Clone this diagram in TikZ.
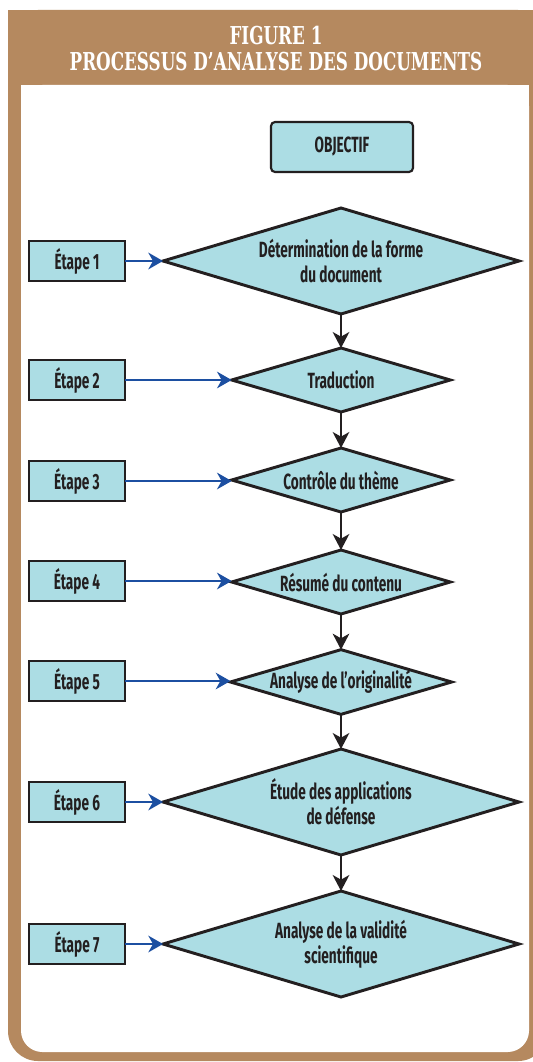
\documentclass[tikz,border=0pt]{standalone}
\usepackage{fontspec}
\usetikzlibrary{shapes.geometric,arrows.meta}
\newfontfamily\bodyfont{Fira Sans}[FakeStretch=0.62]
\newfontfamily\titlefont{DejaVu Serif}[FakeStretch=0.68]
\definecolor{framebrown}{HTML}{B5895F}
\definecolor{boxcyan}{HTML}{ACDDE4}
\definecolor{arrowblue}{HTML}{1C4FA1}
\definecolor{inkblack}{HTML}{231F20}
\begin{document}
\begin{tikzpicture}[x=0.75pt,y=-0.75pt,
  bodytext/.style={font=\bodyfont\bfseries\fontsize{16.5}{18.75}\selectfont, text=inkblack},
  dia/.style={shape=diamond, draw=inkblack, fill=boxcyan, line width=2.2pt, inner sep=0pt, outer sep=0pt, align=center, bodytext},
  bigdia/.style={dia, minimum width=267pt, minimum height=79.5pt, aspect=3.36},
  smalldia/.style={dia, minimum width=164pt, minimum height=48pt, aspect=3.42},
  stepbox/.style={draw=inkblack, fill=boxcyan, line width=1.8pt, minimum width=72pt, minimum height=30pt, inner sep=0pt, outer sep=0pt, bodytext},
  objbox/.style={draw=inkblack, fill=boxcyan, line width=1.6pt, rounded corners=3pt, minimum width=106.5pt, minimum height=37.5pt, inner sep=0pt, outer sep=0pt, bodytext},
  titletext/.style={font=\titlefont\bfseries\fontsize{18.5}{20}\selectfont, text=white, inner sep=0pt},
  flow/.style={draw=inkblack, line width=1.5pt, -{Stealth[length=12pt,width=12.5pt,inset=3.5pt]}},
  feed/.style={draw=arrowblue, line width=1.5pt, -{Stealth[length=11pt,width=12.5pt,inset=3.5pt]}},
]
\useasboundingbox (0,0) rectangle (532,1062);
\fill[white] (0,0) rectangle (532,1062);
% brown frame
\fill[framebrown, rounded corners=22.5pt] (8,10) rectangle (548,1061);
\fill[framebrown] (8,10) rectangle (548,500);
% white panel
\fill[white, rounded corners=16pt] (21,85) rectangle (529,1052);
\fill[white] (21,85) rectangle (529,500);
% title
\node[titletext] (fig) at (276,36) {FIGURE 1};
\node[titletext] (proc) at (276,62) {PROCESSUS D’ANALYSE DES DOCUMENTS};
% objective
\node[objbox] (obj) at (342,147) {OBJECTIF};
% diamonds
\node[bigdia] (d1) at (341,261) {Détermination de la forme\\du document};
\node[smalldia] (d2) at (341,380) {Traduction};
\node[smalldia] (d3) at (341,480) {Contrôle du thème};
\node[smalldia] (d4) at (341,582) {Résumé du contenu};
\node[smalldia] (d5) at (341,682) {Analyse de l’originalité};
\node[bigdia] (d6) at (341,802) {Étude des applications\\de défense};
\node[bigdia] (d7) at (341,944) {Analyse de la validité\\scientifique};
% steps
\node[stepbox] (e1) at (77,261) {Étape 1};
\node[stepbox] (e2) at (77,380) {Étape 2};
\node[stepbox] (e3) at (77,481) {Étape 3};
\node[stepbox] (e4) at (77,581) {Étape 4};
\node[stepbox] (e5) at (77,681) {Étape 5};
\node[stepbox] (e6) at (77,802) {Étape 6};
\node[stepbox] (e7) at (77,944) {Étape 7};
% flow
\draw[flow] (d1.south) -- (d2.north);
\draw[flow] (d2.south) -- (d3.north);
\draw[flow] (d3.south) -- (d4.north);
\draw[flow] (d4.south) -- (d5.north);
\draw[flow] (d5.south) -- (d6.north);
\draw[flow] (d6.south) -- (d7.north);
% feeds
\draw[feed] (e1.east) -- (d1.west);
\draw[feed] (e2.east) -- (d2.west);
\draw[feed] (e3.east) -- (d3.west |- e3.east);
\draw[feed] (e4.east) -- (d4.west |- e4.east);
\draw[feed] (e5.east) -- (d5.west |- e5.east);
\draw[feed] (e6.east) -- (d6.west);
\draw[feed] (e7.east) -- (d7.west);
\end{tikzpicture}
\end{document}
